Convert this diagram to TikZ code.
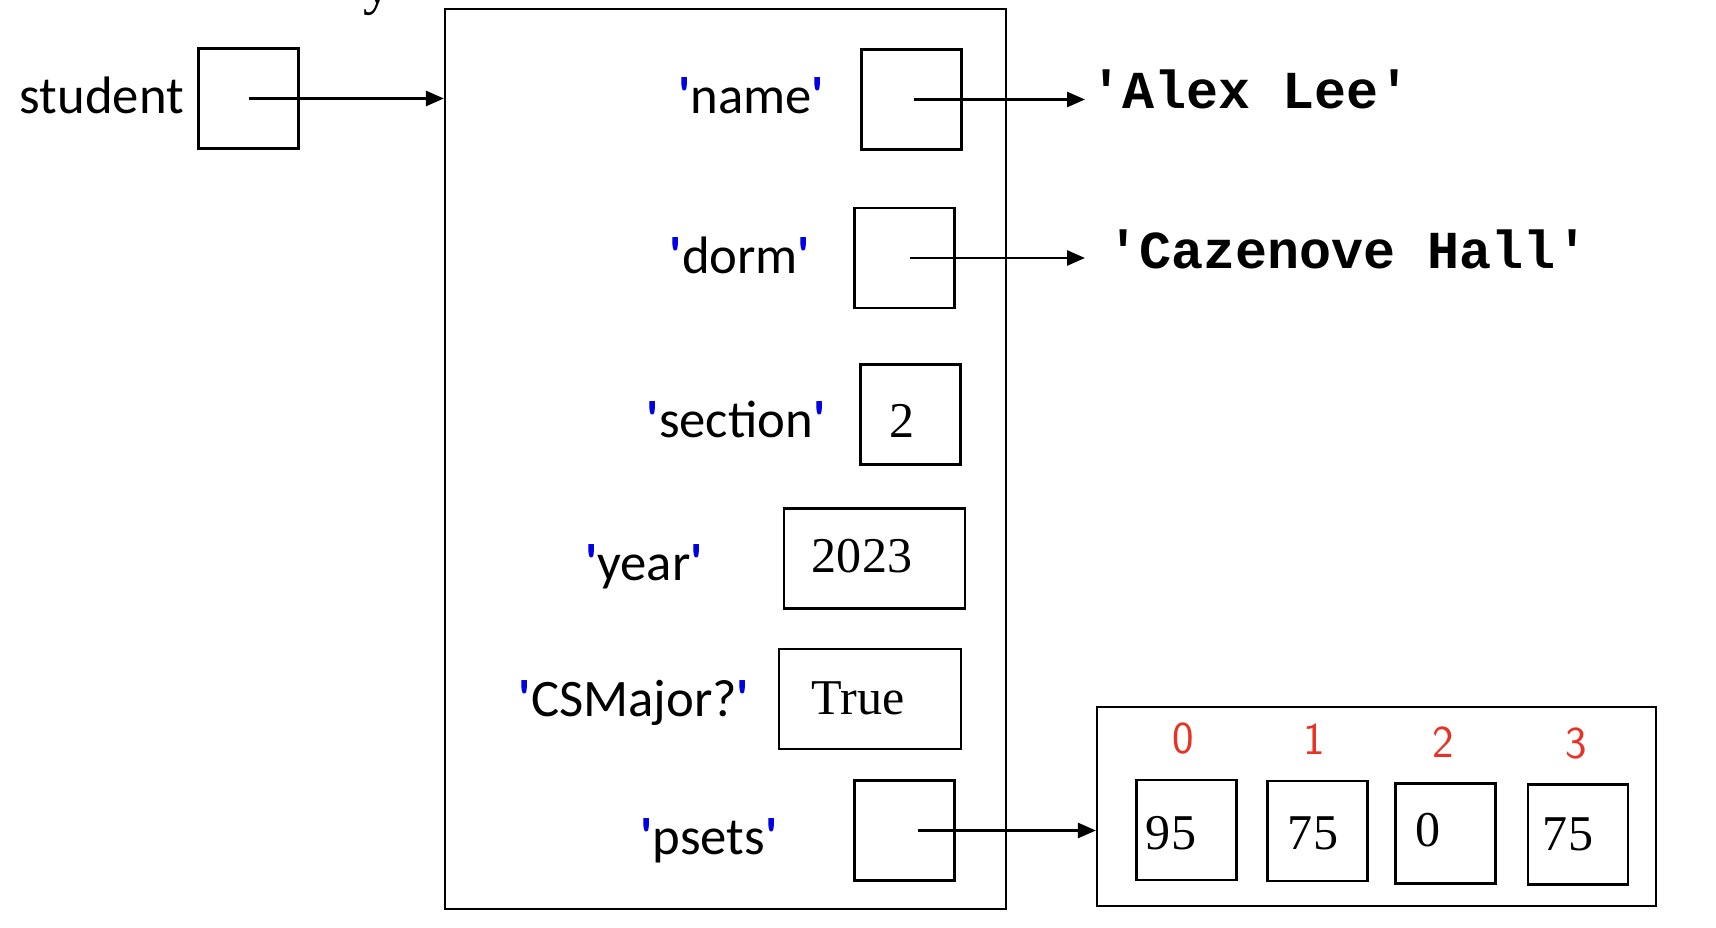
\documentclass[tikz,border=0pt]{standalone}
\usepackage{fontspec}
\setmainfont{Liberation Serif}
\newfontfamily\keyfont{Carlito}
\newfontfamily\codefont{Liberation Mono}
\usetikzlibrary{arrows.meta}
\definecolor{qblue}{RGB}{0,0,230}
\definecolor{idxred}{RGB}{232,50,36}
\newcommand{\qt}{{\color{qblue}\bfseries\textquotesingle}}
\newcommand{\dkey}[1]{\qt#1\qt}
\tikzset{
  cell/.style={draw, line width=1.3pt, minimum width=2cm, minimum height=2cm, inner sep=0pt},
  keytxt/.style={font=\keyfont\fontsize{30}{36}\selectfont, anchor=base, inner sep=0pt},
  valtxt/.style={font=\fontsize{28.5}{34}\selectfont, anchor=base, inner sep=0pt},
  codetxt/.style={font=\codefont\bfseries\fontsize{30.4}{36}\selectfont, anchor=base west, inner sep=0pt},
  idx/.style={font=\sffamily\fontsize{26}{31}\selectfont, text=idxred, anchor=base, inner sep=0pt},
  ptr/.style={line width=1.5pt, -{Triangle[length=0.36cm,width=0.3cm]}},
}
\begin{document}
\begin{tikzpicture}[x=0.02cm, y=-0.02cm]
  \useasboundingbox (0,0) rectangle (1716,928);
  % cut-off text at the top
  \node[font=\fontsize{32}{36}\selectfont, anchor=base, inner sep=0pt] (cut) at (378,4) {y};
  % the variable
  \node[keytxt] (stulbl) at (102,114) {student};
  \node[cell] (stu) at (248.5,98.5) {};
  % the dictionary
  \node[draw, line width=1.3pt, minimum width=11.22cm, minimum height=18cm] (dict) at (725.5,459) {};
  \node[keytxt] (kname) at (751,114) {\dkey{name}};
  \node[cell] (namebox) at (911.5,99.5) {};
  \node[keytxt] (kdorm) at (740,274) {\dkey{dorm}};
  \node[cell] (dormbox) at (904.5,258) {};
  \node[keytxt] (ksect) at (736,438) {\dkey{section}};
  \node[cell] (sectbox) at (910.5,414.5) {};
  \node[valtxt] (vsect) at (902,438) {2};
  \node[keytxt] (kyear) at (644,580) {\dkey{year}};
  \node[cell, minimum width=3.62cm] (yearbox) at (874.5,558.5) {};
  \node[valtxt] (vyear) at (862,572) {2023};
  \node[keytxt] (kmajor) at (634,716) {\dkey{CSMajor?}};
  \node[cell, minimum width=3.64cm] (majorbox) at (870,699) {};
  \node[valtxt] (vmajor) at (858,714) {True};
  \node[keytxt] (kpsets) at (709,854) {\dkey{psets}};
  \node[cell] (psetsbox) at (904.5,830.5) {};
  % strings
  \node[codetxt] (alex) at (1090,109) {\textquotesingle Alex Lee\textquotesingle};
  \node[codetxt] (caz) at (1107,269) {\textquotesingle Cazenove Hall\textquotesingle};
  \coordinate (alexin) at (1085,101);
  \coordinate (cazin) at (1085,256);
  % the list
  \node[draw, line width=1.3pt, minimum width=11.18cm, minimum height=3.98cm] (lst) at (1376.5,806.5) {};
  \foreach \i/\x/\y/\v/\vx/\vy/\ix/\iy in {0/1186.5/830/95/1171/849/1183/753,
      1/1317.5/831/75/1313/849/1314/754,
      2/1445.5/833.5/0/1428/846/1443/757,
      3/1578/834.5/75/1568/850/1576/758} {
    \node[cell] (c\i) at (\x,\y) {};
    \node[valtxt] (v\i) at (\vx,\vy) {\v};
    \node[idx] (i\i) at (\ix,\iy) {\i};
  }
  % pointers
  \draw[ptr] (stu.center) -- (stu.center -| dict.west);
  \draw[ptr] ([xshift=0.05cm]namebox.center) -- (namebox.center -| alexin);
  \draw[ptr] ([xshift=0.1cm]dormbox.center) -- (dormbox.center -| cazin);
  \draw[ptr] ([xshift=0.26cm]psetsbox.center) -- (psetsbox.center -| lst.west);
\end{tikzpicture}
\end{document}
